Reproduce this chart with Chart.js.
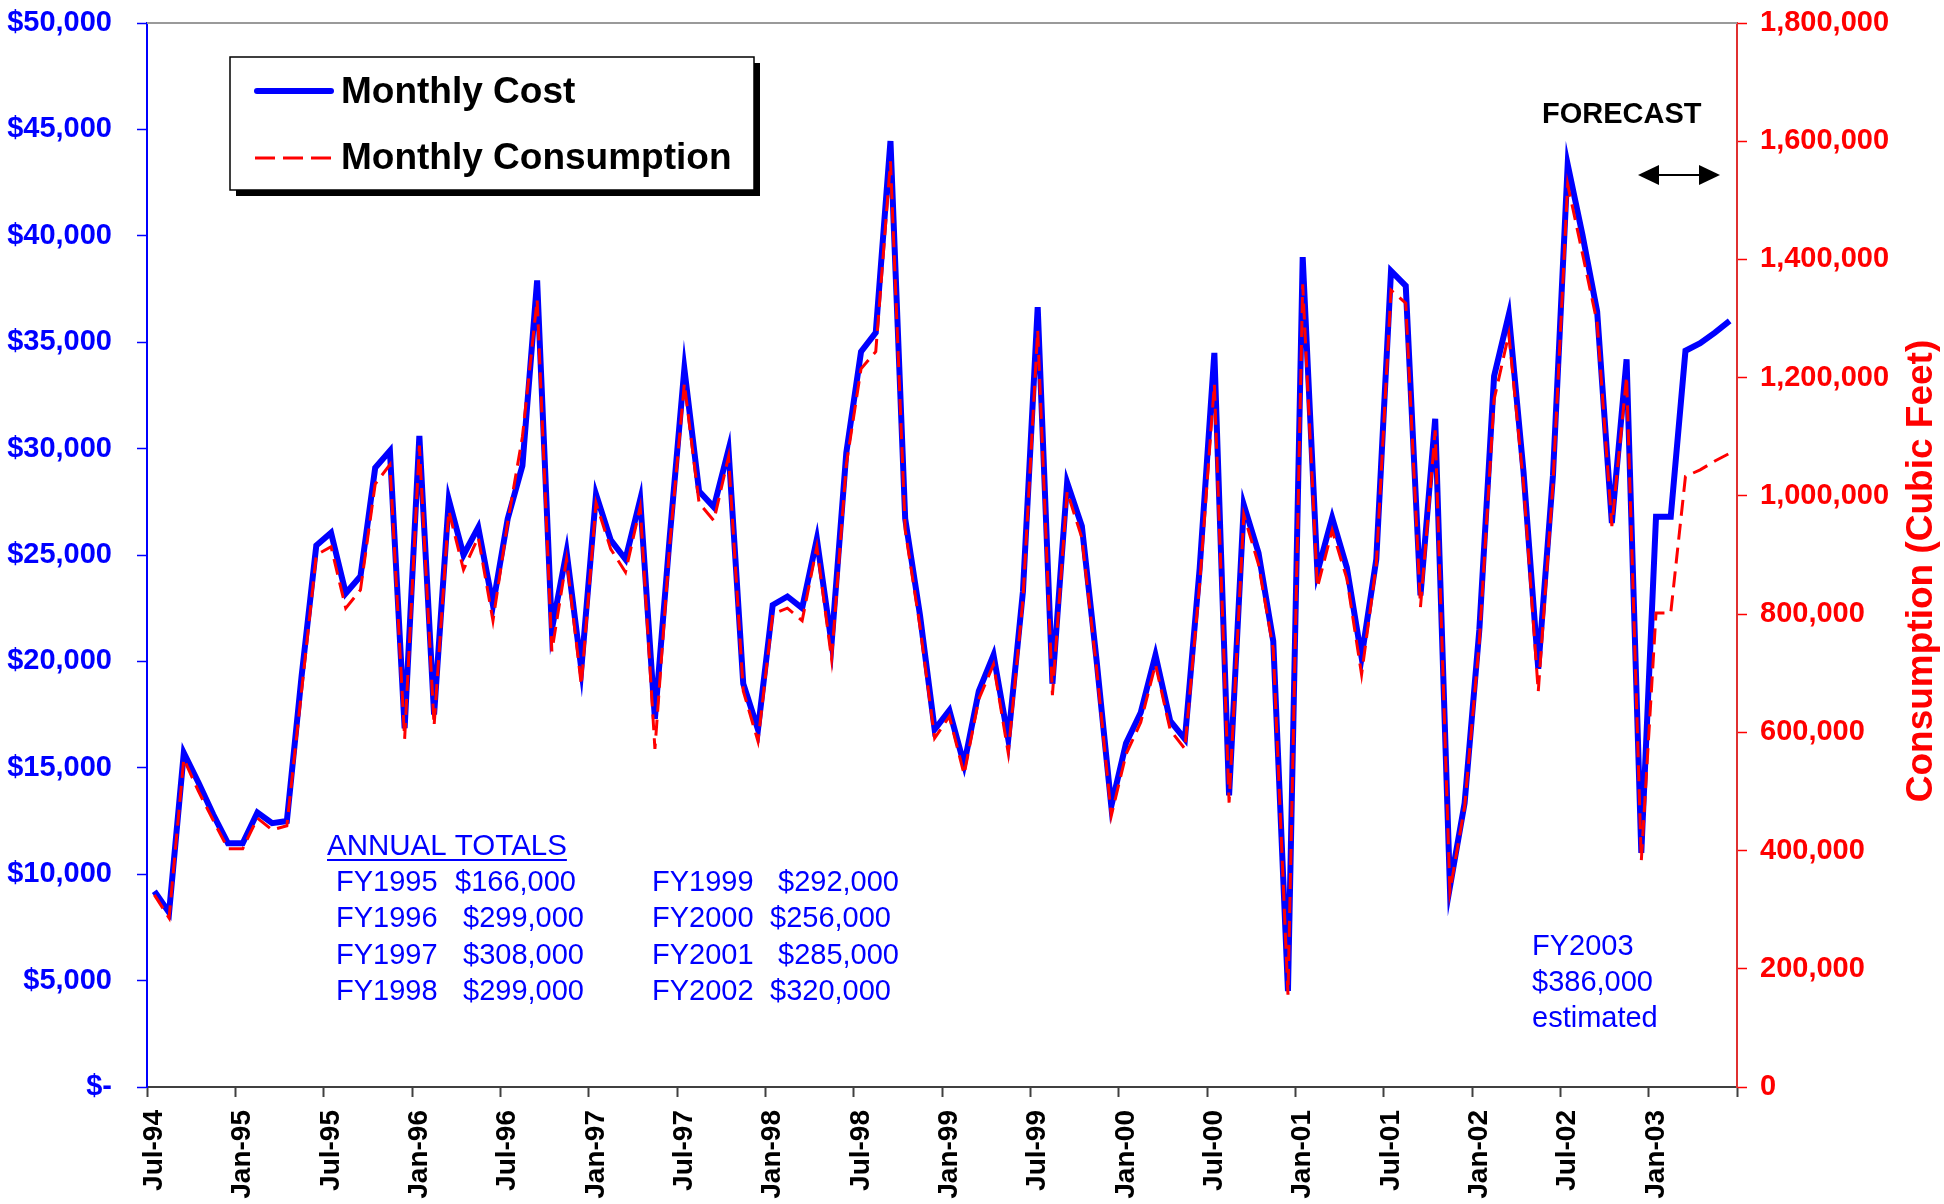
<!DOCTYPE html>
<html lang="en">
<head>
<meta charset="UTF-8" />
<title>Monthly Cost and Consumption</title>
<style>
    html, body { margin: 0; padding: 0; background: #ffffff; }
    #chart-container { width: 1944px; height: 1204px; }
</style>
</head>
<body>
<div id="chart-container"><canvas id="costChart"></canvas></div>

<script src="https://cdn.jsdelivr.net/npm/chart.js"></script>
<script>
    // month labels Jul-94 .. Jun-03
    const monthNames = ["Jan", "Feb", "Mar", "Apr", "May", "Jun", "Jul", "Aug", "Sep", "Oct", "Nov", "Dec"];

    function generateMonthLabels(startYear, startMonth, count) {
        const labels = [];
        for (let i = 0; i < count; i++) {
            const m = (startMonth + i) % 12;
            const y = startYear + Math.floor((startMonth + i) / 12);
            labels.push(monthNames[m] + "-" + String(y % 100).padStart(2, "0"));
        }
        return labels;
    }

    const months = generateMonthLabels(1994, 6, 108);

    // monthly cost ($)
    const monthlyCost = [
        9200, 8200, 15700, 14300, 12800, 11450,
        11450, 12900, 12400, 12500, 19300, 25450,
        26050, 23200, 24000, 29100, 29900, 16850,
        30600, 17500, 27600, 25000, 26300, 22650,
        26700, 29200, 37900, 21500, 25150, 19650,
        27850, 25700, 24800, 27600, 17300, 25800,
        33750, 28000, 27250, 29950, 18950, 16800,
        22650, 23050, 22500, 25750, 20850, 29800,
        34550, 35450, 44450, 26700, 22200, 16800,
        17700, 15150, 18600, 20300, 16350, 23300,
        36650, 18950, 28400, 26350, 20050, 13200,
        16150, 17600, 20300, 17200, 16350, 24350,
        34500, 13700, 27350, 25100, 20950, 4500,
        39000, 24200, 26750, 24400, 20200, 24800,
        38350, 37650, 23100, 31400, 9400, 13350,
        21500, 33400, 36300, 28900, 19650, 28750,
        43350, 40050, 36450, 26500, 34200, 11000,
        26800, 26800, 34600, 34950, 35450, 36000
    ];

    // monthly consumption (cubic feet)
    const monthlyConsumption = [
        325000, 286000, 555000, 500000, 451000, 403000,
        403000, 455000, 435000, 442000, 670000, 900000,
        914000, 810000, 841000, 1020000, 1053000, 589000,
        1085000, 611000, 975000, 875000, 930000, 789000,
        955000, 1100000, 1332000, 737000, 893000, 680000,
        988000, 910000, 871000, 981000, 572000, 916000,
        1190000, 988000, 958000, 1066000, 670000, 585000,
        800000, 810000, 789000, 914000, 724000, 1053000,
        1215000, 1244000, 1566000, 942000, 780000, 590000,
        627000, 529000, 656000, 715000, 565000, 825000,
        1280000, 663000, 1007000, 929000, 708000, 459000,
        563000, 617000, 715000, 604000, 572000, 851000,
        1189000, 481000, 968000, 884000, 741000, 156000,
        1358000, 845000, 942000, 860000, 698000, 884000,
        1348000, 1326000, 812000, 1111000, 331000, 474000,
        754000, 1163000, 1274000, 1020000, 669000, 1020000,
        1527000, 1410000, 1293000, 949000, 1202000, 383000,
        802000, 802000, 1033000, 1044000, 1059000, 1072000
    ];

    // annual totals text
    const fiscalYearsLeft = ["FY1995", "FY1996", "FY1997", "FY1998"];
    const totalsLeft = ["$166,000", "$299,000", "$308,000", "$299,000"];
    const fiscalYearsRight = ["FY1999", "FY2000", "FY2001", "FY2002"];
    const totalsRight = ["$292,000", "$256,000", "$285,000", "$320,000"];
    const forecastNote = ["FY2003", "$386,000", "estimated"];

    const BLUE = "#0000ff";
    const RED = "#ff0000";
    const FONT = "'Liberation Sans', Arial, sans-serif";

    Chart.defaults.font.family = FONT;

    // keep the plot area where the axes were sized, ignore label overhang
    function fixWidth(w) {
        return (scale) => {
            scale.width = w;
            scale.paddingTop = 0;
            scale.paddingBottom = 0;
        };
    }

    // legend box, notes, right axis title and forecast arrow
    const notesPlugin = {
        id: "notes",
        afterDraw(chart) {
            const ctx = chart.ctx;
            const area = chart.chartArea;
            ctx.save();

            // grey top border of plot area
            ctx.strokeStyle = "#9a9a9a";
            ctx.lineWidth = 2;
            ctx.beginPath();
            ctx.moveTo(area.left, area.top);
            ctx.lineTo(area.right, area.top);
            ctx.stroke();

            // legend box with shadow
            ctx.fillStyle = "#000000";
            ctx.fillRect(236, 63, 524, 133);
            ctx.fillStyle = "#ffffff";
            ctx.fillRect(230, 57, 524, 133);
            ctx.strokeStyle = "#000000";
            ctx.lineWidth = 1.5;
            ctx.strokeRect(230, 57, 524, 133);

            const ds = chart.data.datasets;
            ctx.lineCap = "round";
            ctx.strokeStyle = ds[0].borderColor;
            ctx.lineWidth = ds[0].borderWidth;
            ctx.beginPath();
            ctx.moveTo(257, 91);
            ctx.lineTo(331, 91);
            ctx.stroke();
            ctx.lineCap = "butt";
            ctx.strokeStyle = ds[1].borderColor;
            ctx.lineWidth = ds[1].borderWidth;
            ctx.setLineDash([20, 8]);
            ctx.beginPath();
            ctx.moveTo(255, 158);
            ctx.lineTo(331, 158);
            ctx.stroke();
            ctx.setLineDash([]);

            ctx.fillStyle = "#000000";
            ctx.font = "bold 37px " + FONT;
            ctx.textBaseline = "middle";
            ctx.textAlign = "left";
            ctx.fillText(ds[0].label, 341, 93);
            ctx.fillText(ds[1].label, 341, 159);

            // annual totals
            ctx.textBaseline = "alphabetic";
            ctx.fillStyle = BLUE;
            ctx.font = "29.5px " + FONT;
            ctx.fillText("ANNUAL TOTALS", 327, 855);
            const w = ctx.measureText("ANNUAL TOTALS").width;
            ctx.fillRect(327, 859, w, 2);
            ctx.font = "29px " + FONT;
            const rowY = [891, 927, 964, 1000];
            const leftAmountX = [455, 463, 463, 463];
            const rightAmountX = [778, 770, 778, 770];
            fiscalYearsLeft.forEach((fy, i) => {
                ctx.fillText(fy, 336, rowY[i]);
                ctx.fillText(totalsLeft[i], leftAmountX[i], rowY[i]);
            });
            fiscalYearsRight.forEach((fy, i) => {
                ctx.fillText(fy, 652, rowY[i]);
                ctx.fillText(totalsRight[i], rightAmountX[i], rowY[i]);
            });
            forecastNote.forEach((line, i) => {
                ctx.fillText(line, 1532, 955 + i * 36);
            });

            // forecast label and double arrow
            ctx.fillStyle = "#000000";
            ctx.font = "bold 29px " + FONT;
            ctx.fillText("FORECAST", 1542, 123);
            ctx.strokeStyle = "#000000";
            ctx.lineWidth = 2;
            ctx.beginPath();
            ctx.moveTo(1655, 175);
            ctx.lineTo(1703, 175);
            ctx.stroke();
            ctx.beginPath();
            ctx.moveTo(1638, 175);
            ctx.lineTo(1659, 165);
            ctx.lineTo(1659, 185);
            ctx.closePath();
            ctx.fill();
            ctx.beginPath();
            ctx.moveTo(1720, 175);
            ctx.lineTo(1699, 165);
            ctx.lineTo(1699, 185);
            ctx.closePath();
            ctx.fill();

            // right axis title
            ctx.translate(1922, 571);
            ctx.rotate(-Math.PI / 2);
            ctx.fillStyle = RED;
            ctx.font = "bold 37px " + FONT;
            ctx.textAlign = "center";
            ctx.textBaseline = "middle";
            ctx.fillText("Consumption (Cubic Feet)", 0, 0);

            ctx.restore();
        }
    };

    const ctx = document.getElementById("costChart").getContext("2d");
    const costChart = new Chart(ctx, {
        type: "line",
        data: {
            labels: months,
            datasets: [
                {
                    label: "Monthly Cost",
                    data: monthlyCost,
                    borderColor: BLUE,
                    borderWidth: 6,
                    pointRadius: 0,
                    tension: 0,
                    fill: false,
                    yAxisID: "y",
                    order: 1,
                },
                {
                    label: "Monthly Consumption",
                    data: monthlyConsumption,
                    borderColor: RED,
                    borderWidth: 3,
                    borderDash: [16, 8],
                    pointRadius: 0,
                    tension: 0,
                    fill: false,
                    yAxisID: "y2",
                    order: 0,
                },
            ],
        },
        options: {
            responsive: true,
            maintainAspectRatio: false,
            animation: false,
            layout: { padding: { top: 23, left: 0, right: 0, bottom: 0 } },
            plugins: {
                legend: { display: false },
                tooltip: { enabled: false },
            },
            scales: {
                x: {
                    type: "category",
                    offset: true,
                    afterFit: (scale) => {
                        scale.height = 117;
                        scale.paddingLeft = 0;
                        scale.paddingRight = 0;
                    },
                    grid: {
                        offset: true,
                        drawOnChartArea: false,
                        drawTicks: true,
                        tickLength: 10,
                        tickWidth: 2,
                        tickColor: (c) => (c.index === undefined || c.index % 6 === 0) ? "#404040" : "rgba(0,0,0,0)",
                    },
                    border: { display: true, color: "#404040", width: 2 },
                    ticks: {
                        autoSkip: false,
                        minRotation: 90,
                        maxRotation: 90,
                        padding: 13,
                        color: "#000000",
                        font: { size: 28, weight: "bold" },
                        callback: (v, i) => (i % 6 === 0 ? months[i] : ""),
                    },
                },
                y: {
                    position: "left",
                    min: 0,
                    max: 50000,
                    afterFit: fixWidth(147),
                    grid: {
                        drawOnChartArea: false,
                        tickLength: 10,
                        tickColor: BLUE,
                        tickWidth: 1.5,
                    },
                    border: { display: true, color: BLUE, width: 2 },
                    ticks: {
                        stepSize: 5000,
                        padding: 25,
                        color: BLUE,
                        font: { size: 29, weight: "bold" },
                        callback: (v) => (v === 0 ? "$-" : "$" + v.toLocaleString("en-US")),
                    },
                },
                y2: {
                    position: "right",
                    min: 0,
                    max: 1800000,
                    afterFit: fixWidth(207),
                    grid: {
                        drawOnChartArea: false,
                        tickLength: 10,
                        tickColor: RED,
                        tickWidth: 1.5,
                    },
                    border: { display: true, color: "#e03030", width: 2 },
                    ticks: {
                        stepSize: 200000,
                        padding: 13,
                        color: RED,
                        font: { size: 29, weight: "bold" },
                        callback: (v) => v.toLocaleString("en-US"),
                    },
                },
            },
        },
        plugins: [notesPlugin],
    });
</script>
</body>
</html>
